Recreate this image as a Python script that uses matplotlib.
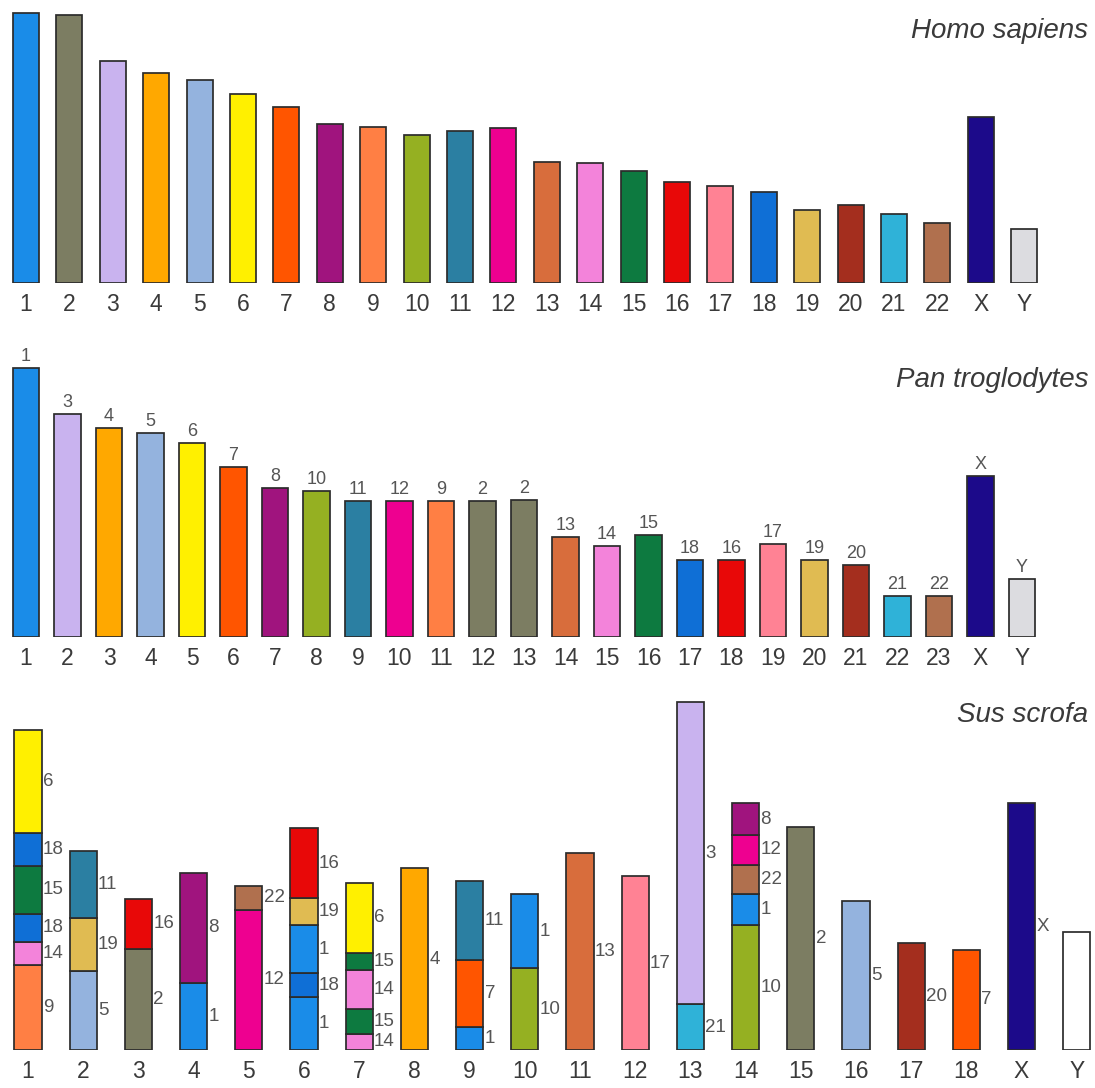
import matplotlib
matplotlib.use('Agg')
import matplotlib.pyplot as plt

plt.rcParams['font.family'] = ['Liberation Sans', 'DejaVu Sans']

# colour of each human chromosome (used for homologous segments)
chrom_colors = {
    '1': '#1a8ce8', '2': '#7c7d62', '3': '#c9b3ef', '4': '#ffa800',
    '5': '#94b3de', '6': '#fff000', '7': '#ff5500', '8': '#a0147e',
    '9': '#ff7f44', '10': '#95b022', '11': '#2b7fa2', '12': '#ee0090',
    '13': '#d86d3c', '14': '#f383da', '15': '#0d7a40', '16': '#e80808',
    '17': '#ff8294', '18': '#0f6fd6', '19': '#e0bb52', '20': '#a42e1e',
    '21': '#2fb2d8', '22': '#b0704e', 'X': '#1c0a8a', 'Y': '#dcdce0',
}
sus_y_color = '#ffffff'

# Homo sapiens (relative lengths)
human_labels = [str(i) for i in range(1, 23)] + ['X', 'Y']
human_lengths = [270, 268, 222, 210, 203, 189, 176, 159, 156, 148, 152, 155,
                 121, 120, 112, 101, 97, 91, 73, 78, 69, 60, 166, 54]

# Pan troglodytes
pan_labels = [str(i) for i in range(1, 24)] + ['X', 'Y']
pan_homolog = ['1', '3', '4', '5', '6', '7', '8', '10', '11', '12', '9', '2', '2',
               '13', '14', '15', '18', '16', '17', '19', '20', '21', '22', 'X', 'Y']
pan_lengths = [269, 223, 209, 204, 194, 170, 149, 146, 136, 136, 136, 136, 137,
               100, 91, 102, 77, 77, 93, 77, 72, 41, 41, 161, 58]

# Sus scrofa: segments from bottom to top (human homolog, length)
sus_labels = [str(i) for i in range(1, 19)] + ['X', 'Y']
sus_seg_homolog = [
    ['9', '14', '18', '15', '18', '6'],
    ['5', '19', '11'],
    ['2', '16'],
    ['1', '8'],
    ['12', '22'],
    ['1', '18', '1', '19', '16'],
    ['14', '15', '14', '15', '6'],
    ['4'],
    ['1', '7', '11'],
    ['10', '1'],
    ['13'],
    ['17'],
    ['21', '3'],
    ['10', '1', '22', '12', '8'],
    ['2'],
    ['5'],
    ['20'],
    ['7'],
    ['X'],
    ['Y'],
]
sus_seg_lengths = [
    [85, 23, 28, 48, 33, 103],
    [79, 53, 67],
    [101, 50],
    [67, 110],
    [140, 24],
    [53, 24, 48, 27, 70],
    [16, 25, 39, 17, 70],
    [182],
    [23, 67, 79],
    [82, 74],
    [197],
    [174],
    [46, 302],
    [125, 31, 29, 30, 32],
    [223],
    [149],
    [107],
    [100],
    [247],
    [118],
]

W, H = 1095, 1088
fig = plt.figure(figsize=(W / 100, H / 100), dpi=100)

edge = '#2b2b2b'
lw = 1.25
tick_color = '#3a3a3a'
label_color = '#555555'
title_color = '#3a3a3a'


def make_axes(top_px, base_px, first_px, step_px):
    ax = fig.add_axes([0, 1 - base_px / H, 1, (base_px - top_px) / H])
    ax.set_xlim(-first_px / step_px, (W - first_px) / step_px)
    ax.set_ylim(0, base_px - top_px)
    for s in ax.spines.values():
        s.set_visible(False)
    ax.set_yticks([])
    ax.tick_params(axis='x', length=0, pad=7, labelsize=16.5, labelcolor=tick_color)
    return ax


# ---- Homo sapiens ----
ax1 = make_axes(8, 283, 26, 43.4)
x1 = list(range(len(human_labels)))
ax1.bar(x1, human_lengths, width=0.6, color=[chrom_colors[c] for c in human_labels],
        edgecolor=edge, linewidth=lw)
ax1.set_xticks(x1)
ax1.set_xticklabels(human_labels)

# ---- Pan troglodytes ----
ax2 = make_axes(345, 637, 26, 41.5)
x2 = list(range(len(pan_labels)))
ax2.bar(x2, pan_lengths, width=0.63, color=[chrom_colors[c] for c in pan_homolog],
        edgecolor=edge, linewidth=lw)
ax2.set_xticks(x2)
ax2.set_xticklabels(pan_labels)
for xi, h, lab in zip(x2, pan_lengths, pan_homolog):
    ax2.annotate(lab, (xi, h), xytext=(0, 2.5), textcoords='offset points',
                 ha='center', va='bottom', fontsize=13, color=label_color)

# ---- Sus scrofa ----
ax3 = make_axes(690, 1050, 28, 55.2)
bw = 0.49
for xi, (homs, lens) in enumerate(zip(sus_seg_homolog, sus_seg_lengths)):
    bottom = 0
    for hom, ln in zip(homs, lens):
        col = sus_y_color if hom == 'Y' else chrom_colors[hom]
        ax3.bar(xi, ln, bottom=bottom, width=bw, color=col, edgecolor=edge, linewidth=lw)
        if hom != 'Y':
            ax3.annotate(hom, (xi + bw / 2, bottom + ln / 2), xytext=(1, 0),
                         textcoords='offset points', ha='left', va='center',
                         fontsize=13.5, color=label_color)
        bottom += ln
ax3.set_xticks(range(len(sus_labels)))
ax3.set_xticklabels(sus_labels)

# titles
for txt, ypx in [('Homo sapiens', 31), ('Pan troglodytes', 380), ('Sus scrofa', 715)]:
    fig.text(1088 / W, 1 - ypx / H, txt, ha='right', va='center', fontsize=20,
             style='italic', color=title_color)

fig.savefig('out.png', dpi=100)
